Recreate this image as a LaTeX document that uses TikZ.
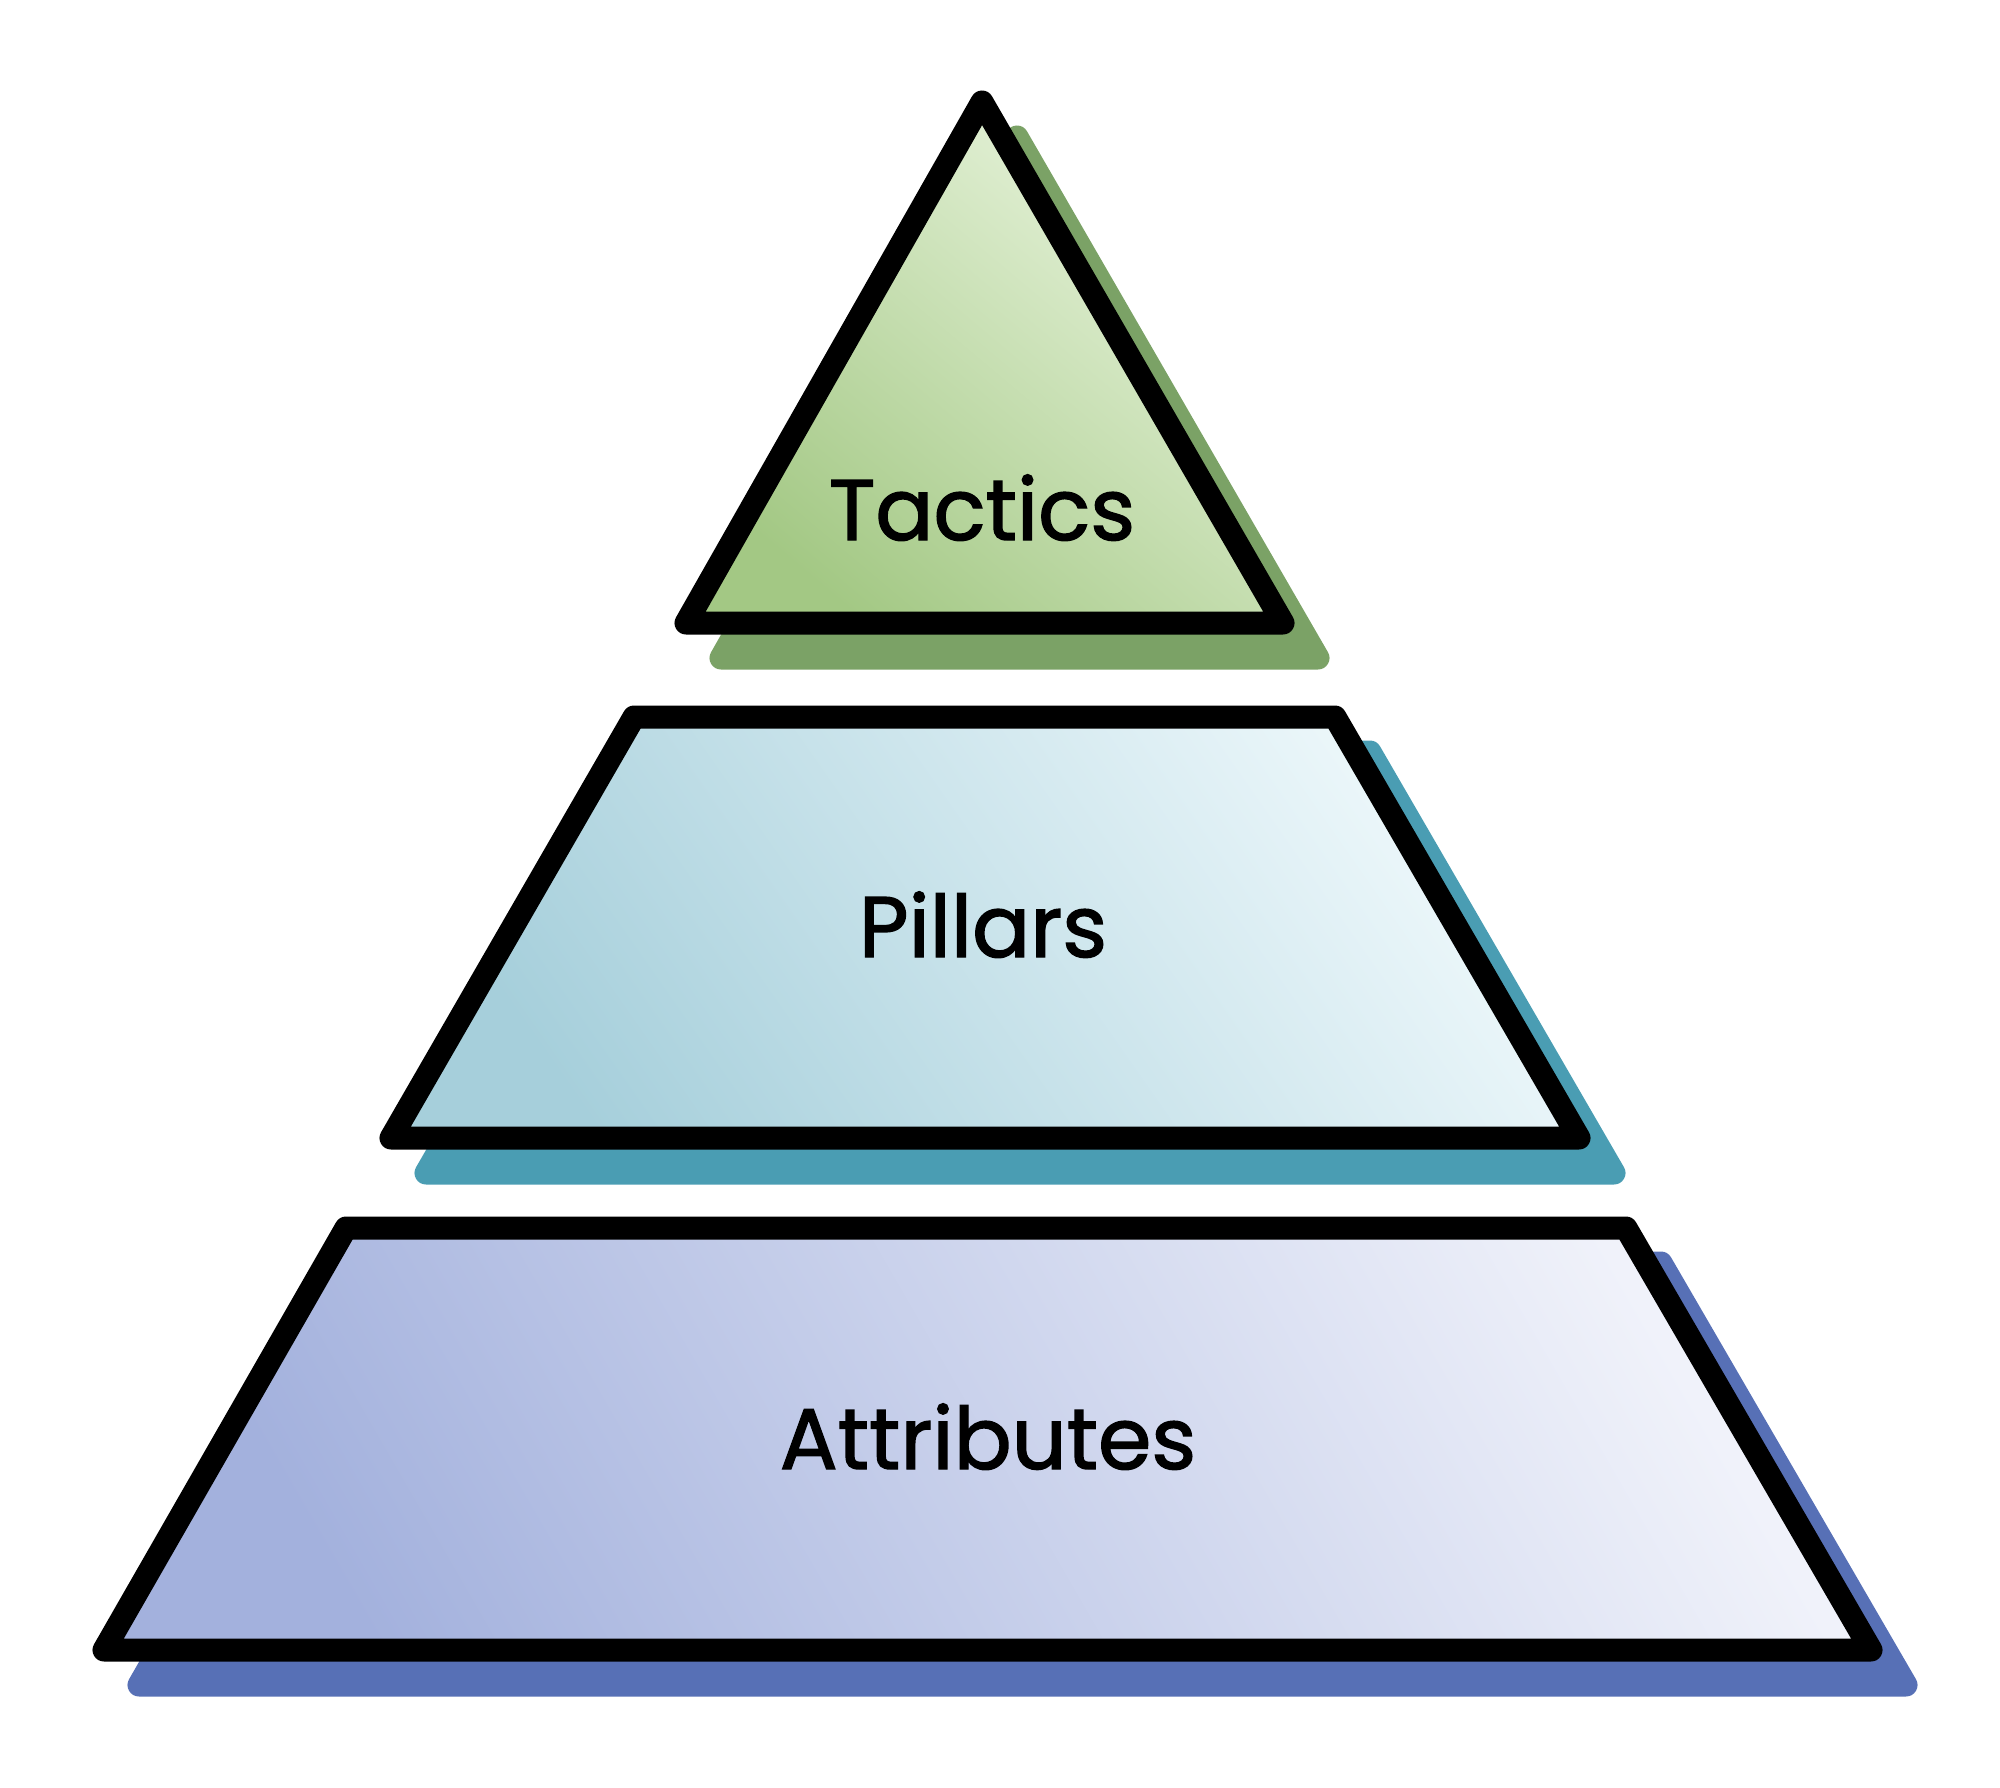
\documentclass[tikz,border=0pt]{standalone}
\usepackage{fontspec}
\setmainfont{Poppins}
\newfontfamily\lblfont{Poppins}[FakeBold=1.6]
\definecolor{gLight}{HTML}{EAF5DF}
\definecolor{gDark}{HTML}{A3C884}
\definecolor{gShadow}{HTML}{7BA266}
\definecolor{bLight}{HTML}{EEF8FB}
\definecolor{bDark}{HTML}{A6CFDB}
\definecolor{bShadow}{HTML}{4A9DB3}
\definecolor{pLight}{HTML}{F0F2FA}
\definecolor{pDark}{HTML}{A3B1DD}
\definecolor{pShadow}{HTML}{5770B6}
\tikzset{
  tier/.style={draw=black, line width=11.5pt, line join=round, line cap=round},
  shadowfill/.style={fill=#1, draw=#1, line width=11.5pt, line join=round},
  lbl/.style={font=\lblfont\fontsize{43}{50}\selectfont, anchor=base, inner sep=0pt}
}
\begin{document}
\begin{tikzpicture}[x=0.5pt, y=-0.5pt]
\useasboundingbox (0,0) rectangle (2000,1787);
% shadows
\begin{scope}[shift={(35,35)}]
\path[shadowfill=gShadow] (982,102) -- (1283,623) -- (686,623) -- cycle;
\path[shadowfill=bShadow] (634,717) -- (1335,717) -- (1579,1138) -- (391,1138) -- cycle;
\path[shadowfill=pShadow] (346,1228) -- (1626,1228) -- (1871,1650) -- (104,1650) -- cycle;
\end{scope}
% tiers
\shade[tier, top color=gLight, bottom color=gDark, shading angle=-40]
  (982,102) -- (1283,623) -- (686,623) -- cycle;
\shade[tier, top color=bLight, bottom color=bDark, shading angle=-55]
  (634,717) -- (1335,717) -- (1579,1138) -- (391,1138) -- cycle;
\shade[tier, top color=pLight, bottom color=pDark, shading angle=-60]
  (346,1228) -- (1626,1228) -- (1871,1650) -- (104,1650) -- cycle;
% labels
\node[lbl] (tactics) at (982,540) {Tactics};
\node[lbl] (pillars) at (983,957) {Pillars};
\node[lbl] (attributes) at (988,1469) {Attributes};
\end{tikzpicture}
\end{document}
